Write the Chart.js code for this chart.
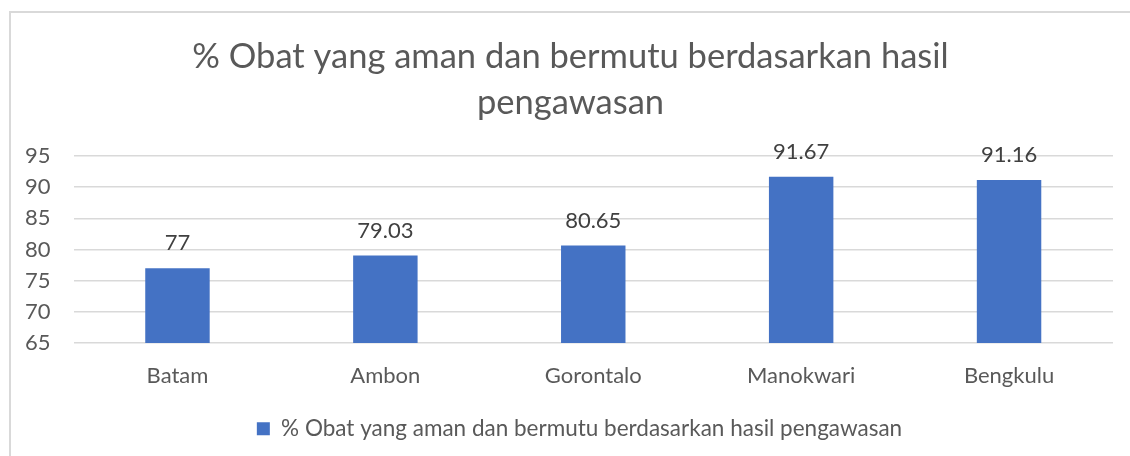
<!DOCTYPE html>
<html>
<head>
<meta charset="utf-8">
<script src="https://cdn.jsdelivr.net/npm/chart.js@4"></script>
<style>
  html, body { margin: 0; padding: 0; background: #fff; }
  #wrap { position: relative; width: 1130px; height: 456px; overflow: hidden; }
  #frame { position: absolute; left: 9px; top: 11px; width: 1200px; height: 500px;
           border-left: 2px solid #d9d9d9; border-top: 2px solid #d9d9d9; }
  canvas { position: absolute; left: 0; top: 0; }
</style>
</head>
<body>
<div id="wrap">
  <div id="frame"></div>
  <canvas id="chart" width="1130" height="456"></canvas>
</div>
<script>
// data
const cities = ["Batam", "Ambon", "Gorontalo", "Manokwari", "Bengkulu"];
const safeDrugPct = [77, 79.03, 80.65, 91.67, 91.16];
const seriesName = "% Obat yang aman dan bermutu berdasarkan hasil pengawasan";
const chartTitle = ["% Obat yang aman dan bermutu berdasarkan hasil", "pengawasan"];
const yMin = 65, yMax = 95, yStep = 5;

const FONT = "Lato, 'Liberation Sans', sans-serif";

// value labels above the bars
const barLabels = {
    id: "barLabels",
    afterDatasetsDraw(chart) {
        const ctx = chart.ctx;
        const meta = chart.getDatasetMeta(0);
        ctx.save();
        ctx.font = "22px " + FONT;
        ctx.fillStyle = "#404040";
        ctx.textAlign = "center";
        ctx.textBaseline = "middle";
        meta.data.forEach((bar, i) => {
            ctx.fillText(String(safeDrugPct[i]), bar.x, bar.y - 25);
        });
        ctx.restore();
    }
};

// nudge title and legend to the right (they are centred on the frame)
const shiftBlocks = {
    id: "shiftBlocks",
    afterLayout(chart) {
        if (chart.titleBlock) { chart.titleBlock.left += 13; chart.titleBlock.right += 13; }
        if (chart.legend) { chart.legend.left += 22; chart.legend.right += 22; }
    }
};

new Chart(document.getElementById("chart"), {
    type: "bar",
    data: {
        labels: cities,
        datasets: [{
            label: seriesName,
            data: safeDrugPct,
            backgroundColor: "#4472C4",
            barPercentage: 0.31,
            categoryPercentage: 1
        }]
    },
    options: {
        responsive: false,
        animation: false,
        layout: { padding: { left: 2, right: 17, top: 34, bottom: 6 } },
        scales: {
            x: {
                grid: { display: false, drawTicks: false },
                border: { display: false },
                ticks: { color: "#595959", font: { family: FONT, size: 22 }, padding: 20 },
                afterFit(axis) { axis.height -= 2; }
            },
            y: {
                min: yMin, max: yMax,
                grid: { color: "#d9d9d9", lineWidth: 1.5, drawTicks: false },
                border: { display: false },
                ticks: { stepSize: yStep, autoSkip: false, color: "#595959", font: { family: FONT, size: 22 }, padding: 23 }
            }
        },
        plugins: {
            title: {
                display: true,
                text: chartTitle,
                color: "#595959",
                font: { family: FONT, size: 34.5, weight: "normal", lineHeight: 1.333 },
                padding: { top: 0, bottom: 30 }
            },
            legend: {
                position: "bottom",
                labels: {
                    color: "#595959",
                    font: { family: FONT, size: 22.5 },
                    boxWidth: 13, boxHeight: 13,
                    padding: 10
                }
            },
            tooltip: { enabled: false }
        }
    },
    plugins: [barLabels, shiftBlocks]
});
</script>
</body>
</html>
